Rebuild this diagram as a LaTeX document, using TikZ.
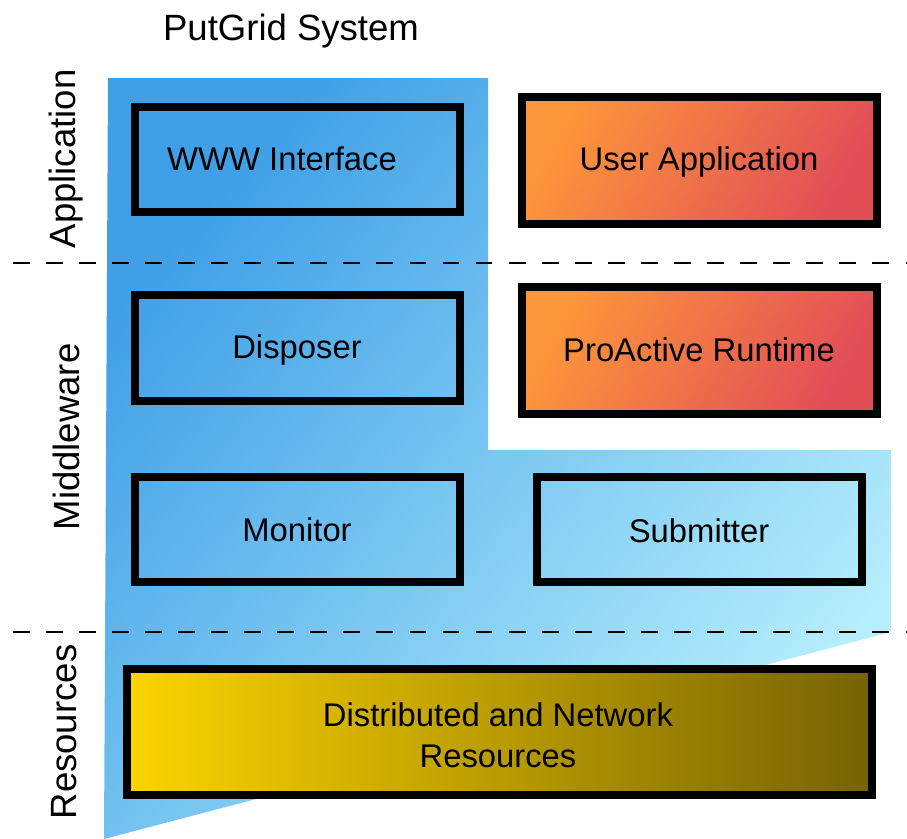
\documentclass[tikz,border=0pt]{standalone}
\usepackage{fontspec}
\setmainfont{Liberation Sans}
\begin{document}
\begin{tikzpicture}[x=0.75pt,y=-0.75pt,
  box/.style={draw=black,line width=6pt},
  lbl/.style={font=\fontsize{24.6pt}{30.75pt}\selectfont,inner sep=0pt,align=center},
  blbl/.style={font=\fontsize{24.6pt}{30.75pt}\selectfont,inner sep=0pt,anchor=base},
  side/.style={font=\fontsize{27.4pt}{32pt}\selectfont,inner sep=0pt,rotate=90},
  sep/.style={draw=black,line width=1.5pt,dash pattern=on 12.6pt off 12.2pt},
  orangebox/.style={box,top color=orange1,bottom color=red1,shading angle=60},
]
\definecolor{blueA}{RGB}{64,160,231}
\definecolor{blueB}{RGB}{182,238,252}
\definecolor{orange1}{RGB}{252,150,58}
\definecolor{red1}{RGB}{226,78,88}
\definecolor{yelA}{RGB}{252,212,0}
\definecolor{yelB}{RGB}{118,98,4}
\useasboundingbox (0,0) rectangle (907,839);
% blue background shape
\shade[top color=blueA,bottom color=blueB,shading angle=50]
  (108,78) -- (488,78) -- (488,450) -- (891,450) -- (891,632) -- (104,839) -- cycle;
% separators
\coordinate (s1a) at (12.7,263); \coordinate (s1b) at (907,263);
\coordinate (s2a) at (12.7,632); \coordinate (s2b) at (907,632);
\draw[sep] (s1a) -- (s1b);
\draw[sep] (s2a) -- (s2b);
% title and side labels
\node[font=\fontsize{27.4pt}{32pt}\selectfont,inner sep=0pt,anchor=base] (title) at (291,40) {PutGrid System};
\node[side] (app) at (66,159) {Application};
\node[side] (mid) at (66,437) {Middleware};
\node[side] (res) at (64,732) {Resources};
% boxes (outer edges inset by half line width 4px)
\draw[box] (135,107) rectangle (460,212);
\node[blbl] (www) at (282,170) {WWW Interface};
\draw[orangebox] (522,97) rectangle (877,224);
\node[blbl] (user) at (699,170) {User Application};
\draw[box] (135,295) rectangle (460,401);
\node[blbl] (disp) at (297,358) {Disposer};
\draw[orangebox] (522,287) rectangle (877,414);
\node[blbl] (pro) at (699,361) {ProActive Runtime};
\draw[box] (135,477) rectangle (460,582);
\node[blbl] (mon) at (297,541) {Monitor};
\draw[box] (537,477) rectangle (862,582);
\node[blbl] (sub) at (699,542) {Submitter};
\draw[box,left color=yelA,right color=yelB] (127,669) rectangle (872,795);
\node[lbl] (dist) at (498,735) {Distributed and Network\\Resources};
\end{tikzpicture}
\end{document}
